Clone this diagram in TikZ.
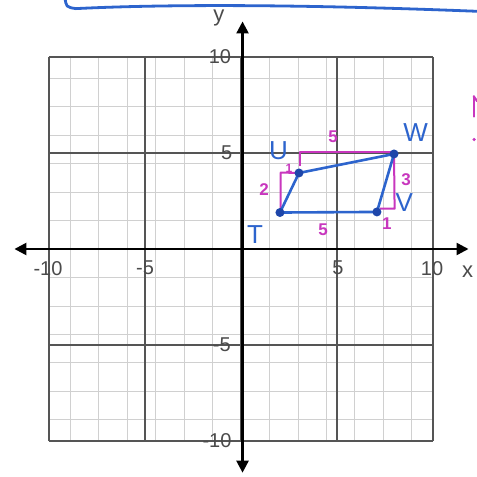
\documentclass[tikz,border=0pt]{standalone}
\usepackage{fontspec}
\setmainfont{Liberation Sans}
\usetikzlibrary{arrows.meta}
\definecolor{minorgray}{RGB}{208,208,208}
\definecolor{majorgray}{RGB}{85,85,85}
\definecolor{penblue}{RGB}{45,100,205}
\definecolor{dotblue}{RGB}{30,70,170}
\definecolor{penmag}{RGB}{200,55,190}
\definecolor{labgray}{RGB}{75,75,75}
\begin{document}
\begin{tikzpicture}[x=19.2pt,y=19.2pt,
  ticklab/.style={text=labgray, font=\fontsize{20}{20}\selectfont, inner sep=0pt},
  axislab/.style={text=labgray, font=\fontsize{22}{22}\selectfont, inner sep=0pt},
  pendot/.style={circle, fill=dotblue, inner sep=0pt, minimum size=9pt},
  penline/.style={penblue, line width=2.6pt, line join=round},
  magline/.style={penmag, line width=2pt, line join=round},
  maglab/.style={text=penmag, font=\fontsize{17}{17}\selectfont\bfseries, inner sep=0pt},
  bluelab/.style={text=penblue, font=\fontsize{26}{26}\selectfont, inner sep=0pt},
  axisline/.style={black, line width=2.4pt, {Triangle[length=12pt,width=12pt]}-{Triangle[length=12pt,width=12pt]}}]
\useasboundingbox (-12.552,-11.875) rectangle (12.240,12.969);
\fill[white] (-12.552,-11.875) rectangle (12.240,12.969);
% grid
\draw[minorgray, line width=0.8pt] (-10,-10) grid (10,10);
\draw[majorgray, line width=1.2pt] (-10,-10) grid[step=5] (10,10);
% axes
\coordinate (xl) at (-11.8,0);
\coordinate (xr) at (11.85,0);
\coordinate (yb) at (0.08,-11.65);
\coordinate (yt) at (0.08,11.85);
\draw[axisline] (xl) -- (xr);
\draw[axisline] (yb) -- (yt);
\node[axislab] (ylab) at (-1.15,12.05) {y};
\node[axislab] (xlab) at (11.8,-1.2) {x};
% tick labels
\node[ticklab] (y10) at (-1.1,10) {10};
\node[ticklab] (y5) at (-0.75,5) {5};
\node[ticklab] (ym5) at (-1.0,-5) {-5};
\node[ticklab] (ym10) at (-1.25,-10) {-10};
\node[ticklab] (xm10) at (-10.05,-1.0) {-10};
\node[ticklab] (xm5) at (-5,-1.0) {-5};
\node[ticklab] (x5) at (5.05,-1.0) {5};
\node[ticklab] (x10) at (9.95,-1.0) {10};
% top blue frame
\draw[penblue, line width=2.8pt, line cap=round] (-9.17,13.1) .. controls (-9.1,12.6) .. (-8.6,12.52) .. controls (-4,12.75) and (3,12.75) .. (12.3,12.38);
% magenta mark at right edge
\draw[penmag, line width=2.2pt, line cap=round] (12.12,7.95) -- (12.12,6.9);
\draw[penmag, line width=2.2pt, line cap=round] (12.12,7.95) -- (12.3,7.7);
\fill[penmag] (12.14,5.7) circle (0.09);
% points
\coordinate (T) at (2.03,1.9);
\coordinate (V) at (7.08,1.93);
\coordinate (W) at (7.97,4.95);
\coordinate (U) at (3.02,3.96);
% magenta construction
\coordinate (Utop) at (3.05,5.05);
\coordinate (Ubot) at (3.05,4.3);
\coordinate (Wtop) at (7.9,5.05);
\coordinate (Lb) at (2.07,2.0);
\coordinate (Lt) at (2.07,3.98);
\coordinate (Rb) at (8.0,2.1);
\coordinate (Rl) at (7.25,2.1);
\draw[magline] (Ubot) -- (Utop) -- (Wtop);
\draw[magline] (Lb) -- (Lt) -- (U);
\draw[magline] (W) -- (Rb) -- (Rl);
% parallelogram
\draw[penline] (T) -- (V) -- (W) -- (U) -- cycle;
\node[pendot] (Td) at (T) {};
\node[pendot] (Vd) at (V) {};
\node[pendot] (Wd) at (W) {};
\node[pendot] (Ud) at (U) {};
% labels
\node[bluelab] (Tl) at (0.73,0.73) {T};
\node[bluelab] (Ul) at (1.95,5.1) {U};
\node[bluelab] (Wl) at (9.1,6.05) {W};
\node[bluelab] (Vl) at (8.5,2.4) {V};
\node[maglab] (top5) at (4.8,5.85) {5};
\node[maglab] (bot5) at (4.27,1.0) {5};
\node[maglab] (two) at (1.2,3.1) {2};
\node[maglab] (three) at (8.6,3.6) {3};
\node[maglab] (oneV) at (7.6,1.3) {1};
\node[maglab, font=\fontsize{12}{12}\selectfont\bfseries] (oneU) at (2.5,4.2) {1};
\end{tikzpicture}
\end{document}
